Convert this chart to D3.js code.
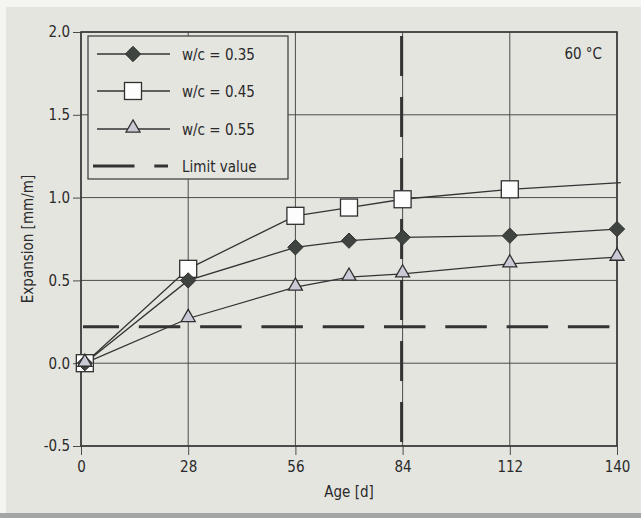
<!DOCTYPE html>
<html>
<head>
<meta charset="utf-8">
<script src="https://cdn.jsdelivr.net/npm/d3@7"></script>
<style>
  html, body { margin: 0; padding: 0; background: #f4f4f1; }
  svg { display: block; }
  text { font-family: "Liberation Sans Narrow", "DejaVu Sans Condensed", "Arial Narrow", sans-serif; fill: #2a2a2a; }
</style>
</head>
<body>
<svg id="chart" width="641" height="518"></svg>
<script>
// Expansion at 60 °C versus age, for three water/cement ratios
const ages = [1, 28, 56, 70, 84, 112, 140];
const wc035 = [0.00, 0.50, 0.70, 0.74, 0.76, 0.77, 0.81];
const wc045 = [0.00, 0.57, 0.89, 0.94, 0.99, 1.05, 1.09];
const wc055 = [0.00, 0.27, 0.46, 0.52, 0.54, 0.60, 0.64];
const limitValue = 0.22;
const limitAge = 84;
const xTicks = [0, 28, 56, 84, 112, 140];
const yTicks = [-0.5, 0.0, 0.5, 1.0, 1.5, 2.0];
const seriesNames = ["w/c = 0.35", "w/c = 0.45", "w/c = 0.55"];
const limitLabel = "Limit value";
const tempLabel = "60 °C";
const xTitle = "Age [d]";
const yTitle = "Expansion [mm/m]";

const W = 641, H = 518;
const FS = 15;
const m = { left: 81, right: 617, top: 32, bottom: 446 };
const svg = d3.select("#chart");

// panel background with lighter edge and darker bottom rim
svg.append("rect").attr("x", 6).attr("y", 7).attr("width", W - 6).attr("height", H - 7).attr("fill", "#e5e5e0");
svg.append("rect").attr("x", 0).attr("y", 513).attr("width", W).attr("height", 5).attr("fill", "#a4a6a6");

const x = d3.scaleLinear().domain([0, 140]).range([m.left, m.right]);
const y = d3.scaleLinear().domain([-0.5, 2.0]).range([m.bottom, m.top]);

// grid
const grid = svg.append("g").attr("stroke", "#4a4a4a").attr("stroke-width", 1);
grid.selectAll(".gx").data(xTicks).join("line")
  .attr("x1", d => x(d)).attr("x2", d => x(d)).attr("y1", m.top).attr("y2", m.bottom);
grid.selectAll(".gy").data(yTicks).join("line")
  .attr("x1", m.left).attr("x2", m.right).attr("y1", d => y(d)).attr("y2", d => y(d));

// axes
const fmtY = d => d3.format(".1f")(d).replace("\u2212", "-");
const xAxis = d3.axisBottom(x).tickValues(xTicks).tickFormat(d3.format("d")).tickSize(9).tickPadding(6);
const yAxis = d3.axisLeft(y).tickValues(yTicks).tickFormat(fmtY).tickSize(8).tickPadding(3);
const gx = svg.append("g").attr("transform", `translate(0,${m.bottom})`).call(xAxis);
const gy = svg.append("g").attr("transform", `translate(${m.left},0)`).call(yAxis);
[gx, gy].forEach(g => {
  g.select(".domain").remove();
  g.selectAll(".tick line").attr("stroke", "#4a4a4a");
  g.selectAll(".tick text").attr("font-size", FS).style("fill", "#2a2a2a")
    .style("font-family", '"Liberation Sans Narrow", "DejaVu Sans Condensed", sans-serif');
});

// plot frame
svg.append("rect").attr("x", m.left).attr("y", m.top)
  .attr("width", m.right - m.left).attr("height", m.bottom - m.top)
  .attr("fill", "none").attr("stroke", "#3a3a3a").attr("stroke-width", 1.6);

// limit lines
const limitStyle = sel => sel.attr("stroke", "#333").attr("stroke-width", 3).attr("stroke-dasharray", "41.5,19.8").attr("fill", "none");
svg.append("line").attr("x1", x(0) + 2).attr("x2", x(140) - 7).attr("y1", y(limitValue)).attr("y2", y(limitValue))
  .call(limitStyle).attr("stroke-dashoffset", 5.5);
svg.append("line").attr("x1", x(limitAge) - 1).attr("x2", x(limitAge) - 1).attr("y1", y(2.0) + 4).attr("y2", y(-0.5)).call(limitStyle)
  .attr("stroke-dasharray", "40,21");

// markers
const diamond = d3.symbol().type(d3.symbolDiamond2).size(150);
const triangle = d3.symbol().type(d3.symbolTriangle2).size(140);
const markerDefs = [
  { draw: g => g.append("path").attr("d", diamond()).attr("fill", "#3f4441").attr("stroke", "#2f3230").attr("stroke-width", 1) },
  { draw: g => g.append("rect").attr("x", -8.5).attr("y", -8.5).attr("width", 17).attr("height", 17).attr("fill", "#fdfdfd").attr("stroke", "#2f2f2f").attr("stroke-width", 1.3) },
  { draw: g => g.append("path").attr("d", triangle()).attr("transform", "translate(0,-1)").attr("fill", "#c9cad6").attr("stroke", "#2f2f2f").attr("stroke-width", 1.3) }
];

const line = d3.line().x(d => x(d[0])).y(d => y(d[1]));
const allSeries = [wc035, wc045, wc055];
// lines first, then markers on top
allSeries.forEach((vals, si) => {
  const pts = ages.map((a, i) => [a, vals[i]]);
  if (si === 1) pts[pts.length - 1][0] += 1; // open series runs slightly past the frame
  svg.append("path").datum(pts)
    .attr("d", line).attr("fill", "none").attr("stroke", "#333").attr("stroke-width", 1.3);
});
// squares, diamonds, then triangles (triangle on top at the origin)
[1, 0, 2].forEach(si => {
  const vals = allSeries[si];
  ages.forEach((a, i) => {
    if (si === 1 && a === 140) return; // square marker falls outside the frame
    const g = svg.append("g").attr("transform", `translate(${x(a)},${y(vals[i])})`);
    markerDefs[si].draw(g);
  });
});

// legend
const lg = svg.append("g");
lg.append("rect").attr("x", 88).attr("y", 36).attr("width", 200).attr("height", 143)
  .attr("fill", "#e5e5e0").attr("stroke", "#444").attr("stroke-width", 1.3);
const rows = [54, 91, 129, 166];
seriesNames.forEach((name, i) => {
  lg.append("line").attr("x1", 97).attr("x2", 170).attr("y1", rows[i]).attr("y2", rows[i])
    .attr("stroke", "#333").attr("stroke-width", 1.3);
  const g = lg.append("g").attr("transform", `translate(133,${rows[i]})`);
  markerDefs[i].draw(g);
  lg.append("text").attr("x", 182).attr("y", rows[i] + 5.5).attr("font-size", FS).text(name);
});
lg.append("line").attr("x1", 93).attr("x2", 168).attr("y1", rows[3]).attr("y2", rows[3]).call(limitStyle);
lg.append("text").attr("x", 182).attr("y", rows[3] + 5.5).attr("font-size", FS).text(limitLabel);

// temperature note
svg.append("text").attr("x", 602).attr("y", 59).attr("text-anchor", "end").attr("font-size", FS).text(tempLabel);

// axis titles
svg.append("text").attr("x", (m.left + m.right) / 2).attr("y", 497).attr("text-anchor", "middle").attr("font-size", FS).text(xTitle);
svg.append("text").attr("transform", `translate(33,${(m.top + m.bottom) / 2}) rotate(-90)`)
  .attr("text-anchor", "middle").attr("font-size", FS).text(yTitle);
</script>
</body>
</html>
